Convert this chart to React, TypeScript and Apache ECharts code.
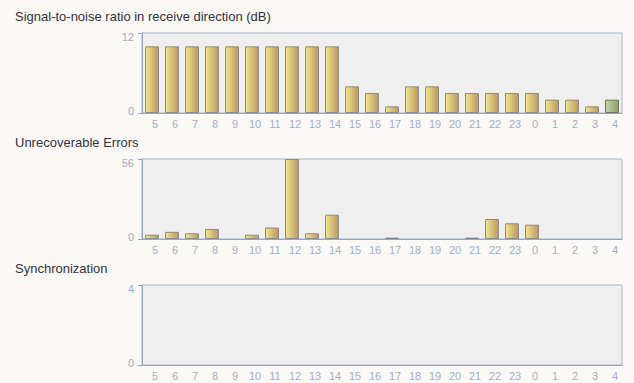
import React, { useEffect, useRef } from "react";
import * as echarts from "echarts";

const hours = ["5","6","7","8","9","10","11","12","13","14","15","16","17","18","19","20","21","22","23","0","1","2","3","4"];
const snrValues = [10,10,10,10,10,10,10,10,10,10,4,3,1,4,4,3,3,3,3,3,2,2,1,2];
const errorValues = [3,5,4,7,0,3,8,56,4,17,0,0,1,0,0,0,1,14,11,10,0,0,0,0];
const syncValues = [0,0,0,0,0,0,0,0,0,0,0,0,0,0,0,0,0,0,0,0,0,0,0,0];
const titles = ["Signal-to-noise ratio in receive direction (dB)", "Unrecoverable Errors", "Synchronization"];
const yMax = [12, 56, 4];
const yInterval = [3, 14, 1];

const GRID_TOPS = [33, 159, 285];
const AXIS_COLOR = "#9AA6B8";
const LABEL_COLOR = "#A3AEC2";
const GRID_LINE = "#C9D1DC";

const goldGradient = new echarts.graphic.LinearGradient(0, 0, 1, 0, [
  { offset: 0, color: "#EFE78C" },
  { offset: 1, color: "#BC965E" },
]);
const greenGradient = new echarts.graphic.LinearGradient(0, 0, 1, 0, [
  { offset: 0, color: "#C6D7A2" },
  { offset: 1, color: "#8D9F6C" },
]);

export default function App() {
  const ref = useRef<HTMLDivElement>(null);
  useEffect(() => {
    document.body.style.margin = "0";
    const chart = echarts.init(ref.current!, null, { renderer: "svg" });
    const series = [snrValues, errorValues, syncValues];
    const option: any = {
      animation: false,
      backgroundColor: "#FAF9F6",
      title: titles.map((t, i) => ({
        text: t,
        left: 15,
        top: GRID_TOPS[i] - 23,
        padding: 0,
        textStyle: { fontFamily: "Liberation Sans, Arial", fontSize: 13, fontWeight: "normal", color: "#333340" },
      })),
      grid: GRID_TOPS.map((top) => ({
        left: 142,
        right: 12,
        top,
        height: 80,
        show: true,
        backgroundColor: "#EFEFEF",
        borderColor: "#A9B3C2",
        borderWidth: 1,
      })),
      xAxis: GRID_TOPS.map((_, i) => ({
        type: "category",
        gridIndex: i,
        data: hours,
        axisLine: { lineStyle: { color: AXIS_COLOR } },
        axisTick: { alignWithLabel: true, length: 4, lineStyle: { color: AXIS_COLOR } },
        axisLabel: {
          color: LABEL_COLOR,
          fontSize: 11,
          margin: 5,
          interval: 0,
          padding: [0, 0, 0, 6],
          fontFamily: "Liberation Sans, Arial",
        },
      })),
      yAxis: GRID_TOPS.map((_, i) => ({
        type: "value",
        gridIndex: i,
        min: 0,
        max: yMax[i],
        interval: yInterval[i],
        axisLine: { show: true, lineStyle: { color: AXIS_COLOR } },
        axisTick: { show: true, length: 4, customValues: [0, yMax[i]], lineStyle: { color: AXIS_COLOR } },
        axisLabel: {
          color: LABEL_COLOR,
          fontSize: 11,
          margin: 8,
          customValues: [0, yMax[i]],
          fontFamily: "Liberation Sans, Arial",
          formatter: (v: number) => (v === 0 ? "{b|" + v + "}" : "{t|" + v + "}"),
          rich: {
            t: { color: LABEL_COLOR, fontSize: 11, fontFamily: "Liberation Sans, Arial", padding: [8, 0, 0, 0] },
            b: { color: LABEL_COLOR, fontSize: 11, fontFamily: "Liberation Sans, Arial", padding: [0, 0, 4, 0] },
          },
        },
        splitLine: { show: true, lineStyle: { color: GRID_LINE } },
      })),
      series: series.map((vals, i) => ({
        type: "bar",
        xAxisIndex: i,
        yAxisIndex: i,
        barWidth: 14,
        data: vals.map((v, j) => ({
          value: v,
          itemStyle:
            i === 0 && j === vals.length - 1
              ? { color: greenGradient, borderColor: "#6C7858", borderWidth: 1 }
              : { color: goldGradient, borderColor: "#8C8C8C", borderWidth: v === 0 ? 0 : 1 },
        })),
      })),
    };
    chart.setOption(option);
    return () => chart.dispose();
  }, []);
  return <div ref={ref} style={{ width: 634, height: 383 }} />;
}
